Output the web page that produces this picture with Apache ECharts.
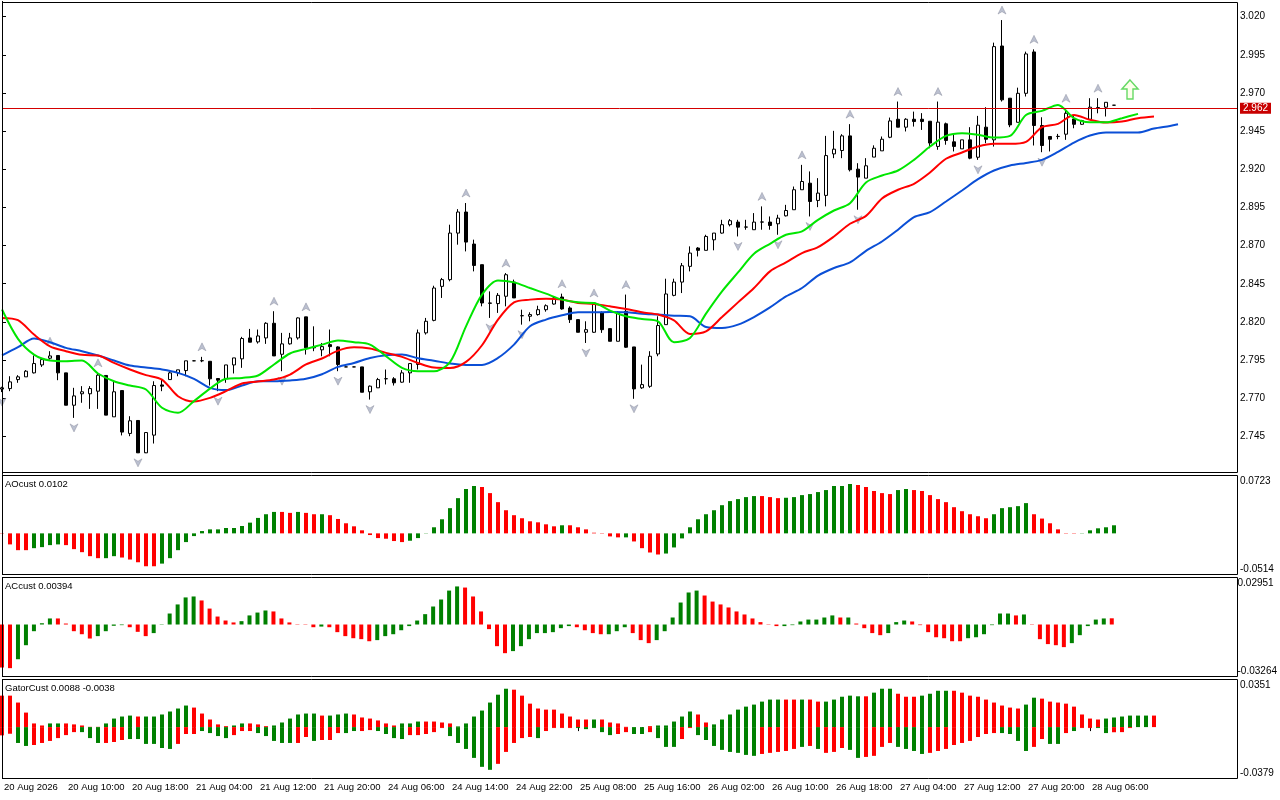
<!DOCTYPE html>
<html>
<head>
<meta charset="utf-8">
<title>Alligator chart</title>
<script src="https://cdn.jsdelivr.net/npm/echarts@6/dist/echarts.min.js"></script>
<style>
html,body{margin:0;padding:0;background:#fff;}
#main{width:1280px;height:800px;}
</style>
</head>
<body>
<div id="main"></div>
<script>
var timeLabels = ["20 Aug 2026","20 Aug 10:00","20 Aug 18:00","21 Aug 04:00","21 Aug 12:00","21 Aug 20:00",
	"24 Aug 06:00","24 Aug 14:00","24 Aug 22:00","25 Aug 08:00","25 Aug 16:00","26 Aug 02:00",
	"26 Aug 10:00","26 Aug 18:00","27 Aug 04:00","27 Aug 12:00","27 Aug 20:00","28 Aug 06:00"];
var labelBars = [0,8,16,24,32,40,48,56,64,72,80,88,96,104,112,120,128,136];
var priceTicks = [2.745,2.770,2.795,2.820,2.845,2.870,2.895,2.920,2.945,2.970,2.995,3.020];
var currentPrice = 2.962;

var opens = [2.7760,2.7763,2.7822,2.7840,2.7866,2.7918,2.7962,2.7980,2.7866,2.7654,
	2.7729,2.7729,2.7746,2.7849,2.7578,2.7750,2.7469,2.7554,2.7342,2.7458,
	2.7787,2.7822,2.7866,2.7881,2.7945,2.7945,2.7942,2.7829,2.7827,2.7918,
	2.7958,2.8095,2.8069,2.8095,2.8191,2.7988,2.8056,2.8095,2.8233,2.8030,
	2.8017,2.8051,2.8036,2.7905,2.7905,2.7905,2.7742,2.7768,2.7827,2.7827,
	2.7805,2.7866,2.7921,2.8128,2.8210,2.8433,2.8477,2.8782,2.8920,2.8710,
	2.8575,2.8324,2.8320,2.8368,2.8461,2.8241,2.8237,2.8248,2.8280,2.8317,
	2.8363,2.8291,2.8215,2.8132,2.8132,2.8259,2.8156,2.8073,2.8269,2.8036,
	2.7768,2.7778,2.7990,2.8182,2.8374,2.8461,2.8564,2.8684,2.8669,2.8738,
	2.8782,2.8837,2.8854,2.8821,2.8804,2.8854,2.8854,2.8843,2.8895,2.8935,
	2.9066,2.9109,2.8996,2.9029,2.9301,2.9323,2.9419,2.9201,2.9142,2.9280,
	2.9321,2.9410,2.9528,2.9476,2.9528,2.9528,2.9515,2.9350,2.9498,2.9380,
	2.9334,2.9393,2.9279,2.9476,2.9393,3.0008,2.9666,2.9508,2.9698,2.9969,
	2.9487,2.9415,2.9415,2.9430,2.9530,2.9495,2.9528,2.9604,2.9607,2.9620];
var highs = [2.7775,2.7844,2.7851,2.7884,2.7980,2.7964,2.8008,2.7980,2.7866,2.7768,
	2.7779,2.7779,2.7866,2.7849,2.7811,2.7750,2.7582,2.7554,2.7475,2.7811,
	2.7822,2.7877,2.7886,2.7945,2.7947,2.7971,2.7942,2.7829,2.7918,2.7964,
	2.8102,2.8154,2.8150,2.8198,2.8270,2.8128,2.8128,2.8230,2.8233,2.8171,
	2.8062,2.8150,2.8040,2.7906,2.7906,2.7905,2.7783,2.7833,2.7888,2.7838,
	2.7884,2.7927,2.8150,2.8226,2.8437,2.8488,2.8837,2.8939,2.8979,2.8739,
	2.8575,2.8400,2.8389,2.8520,2.8477,2.8280,2.8263,2.8306,2.8315,2.8368,
	2.8385,2.8302,2.8215,2.8204,2.8324,2.8269,2.8156,2.8269,2.8379,2.8036,
	2.7920,2.8008,2.8237,2.8483,2.8483,2.8586,2.8695,2.8690,2.8771,2.8782,
	2.8869,2.8874,2.8869,2.8869,2.8913,2.8957,2.8891,2.8902,2.8967,2.9087,
	2.9229,2.9186,2.9142,2.9419,2.9452,2.9430,2.9496,2.9240,2.9273,2.9357,
	2.9415,2.9539,2.9644,2.9535,2.9578,2.9568,2.9515,2.9644,2.9506,2.9426,
	2.9393,2.9476,2.9550,2.9607,3.0030,3.0178,2.9666,2.9735,2.9971,2.9986,
	2.9541,2.9415,2.9432,2.9600,2.9556,2.9524,2.9666,2.9666,2.9639,2.9620];
var lows = [2.7740,2.7746,2.7801,2.7840,2.7862,2.7905,2.7953,2.7818,2.7654,2.7571,
	2.7670,2.7630,2.7630,2.7589,2.7578,2.7456,2.7451,2.7342,2.7345,2.7403,
	2.7746,2.7822,2.7844,2.7844,2.7943,2.7936,2.7783,2.7746,2.7801,2.7862,
	2.7899,2.8067,2.8058,2.8056,2.7977,2.7877,2.8051,2.8084,2.7986,2.8008,
	2.7975,2.7975,2.7877,2.7904,2.7904,2.7739,2.7691,2.7768,2.7790,2.7783,
	2.7801,2.7801,2.7888,2.8117,2.8204,2.8357,2.8466,2.8706,2.8662,2.8531,
	2.8302,2.8226,2.8259,2.8302,2.8357,2.8182,2.8204,2.8241,2.8267,2.8313,
	2.8280,2.8193,2.8132,2.8062,2.8128,2.8128,2.8073,2.8073,2.8030,2.7696,
	2.7761,2.7768,2.7975,2.8182,2.8368,2.8389,2.8531,2.8629,2.8669,2.8669,
	2.8778,2.8826,2.8760,2.8804,2.8804,2.8804,2.8804,2.8771,2.8891,2.8935,
	2.9066,2.8891,2.8952,2.8957,2.9273,2.9273,2.9186,2.8935,2.9142,2.9280,
	2.9321,2.9404,2.9476,2.9448,2.9480,2.9458,2.9338,2.9328,2.9361,2.9317,
	2.9334,2.9266,2.9262,2.9371,2.9349,2.9644,2.9476,2.9508,2.9677,2.9356,
	2.9312,2.9317,2.9397,2.9393,2.9469,2.9491,2.9524,2.9567,2.9546,2.9620];
var closes = [2.7768,2.7807,2.7840,2.7877,2.7927,2.7953,2.7977,2.7866,2.7654,2.7715,
	2.7742,2.7763,2.7851,2.7589,2.7742,2.7478,2.7552,2.7342,2.7475,2.7783,
	2.7779,2.7866,2.7886,2.7945,2.7945,2.7946,2.7827,2.7818,2.7918,2.7964,
	2.8091,2.8067,2.8108,2.8191,2.7977,2.8056,2.8095,2.8226,2.8030,2.8036,
	2.8038,2.8038,2.7921,2.7905,2.7905,2.7739,2.7779,2.7822,2.7828,2.7801,
	2.7866,2.7927,2.8128,2.8204,2.8422,2.8477,2.8782,2.8920,2.8723,2.8570,
	2.8324,2.8322,2.8374,2.8509,2.8357,2.8240,2.8248,2.8280,2.8306,2.8357,
	2.8285,2.8215,2.8132,2.8149,2.8324,2.8149,2.8073,2.8263,2.8034,2.7761,
	2.7789,2.7975,2.8176,2.8383,2.8461,2.8568,2.8651,2.8669,2.8760,2.8782,
	2.8837,2.8863,2.8821,2.8822,2.8854,2.8855,2.8832,2.8880,2.8930,2.9066,
	2.9120,2.8989,2.9044,2.9290,2.9332,2.9419,2.9197,2.9149,2.9223,2.9338,
	2.9397,2.9517,2.9476,2.9528,2.9513,2.9513,2.9372,2.9509,2.9389,2.9350,
	2.9393,2.9273,2.9489,2.9397,3.0004,2.9655,2.9491,2.9698,2.9956,2.9487,
	2.9356,2.9397,2.9416,2.9567,2.9495,2.9519,2.9607,2.9605,2.9639,2.9620];

// alligator lines, one value every second bar starting at bar 0
var jaw = [2.7980,2.8034,2.8091,2.8067,2.8030,2.8008,2.7980,2.7947,2.7914,2.7901,
	2.7888,2.7866,2.7827,2.7768,2.7753,2.7783,2.7811,2.7811,2.7816,2.7827,
	2.7857,2.7905,2.7931,2.7964,2.7982,2.7986,2.7962,2.7946,2.7927,2.7918,
	2.7918,2.7964,2.8051,2.8171,2.8215,2.8243,2.8263,2.8263,2.8265,2.8263,
	2.8254,2.8248,2.8241,2.8237,2.8167,2.8160,2.8182,2.8232,2.8295,2.8367,
	2.8422,2.8503,2.8553,2.8590,2.8666,2.8727,2.8804,2.8887,2.8919,2.8989,
	2.9061,2.9135,2.9192,2.9225,2.9242,2.9262,2.9314,2.9375,2.9421,2.9441,
	2.9441,2.9441,2.9467,2.9484];
var jawEnd = [147, 2.9495];
var teeth = [2.8226,2.8211,2.8117,2.8040,2.8008,2.7984,2.7980,2.7931,2.7888,2.7851,
	2.7822,2.7713,2.7678,2.7702,2.7746,2.7796,2.7809,2.7822,2.7855,2.7921,
	2.7960,2.8012,2.8034,2.8025,2.7997,2.7971,2.7931,2.7901,2.7898,2.7938,
	2.8047,2.8215,2.8328,2.8346,2.8352,2.8346,2.8324,2.8317,2.8302,2.8285,
	2.8263,2.8248,2.8210,2.8121,2.8138,2.8232,2.8328,2.8422,2.8531,2.8590,
	2.8651,2.8690,2.8760,2.8843,2.8895,2.9009,2.9066,2.9105,2.9179,2.9269,
	2.9310,2.9349,2.9367,2.9367,2.9380,2.9476,2.9498,2.9556,2.9524,2.9506,
	2.9513,2.9535,2.9546];
var lips = [2.8281,2.8089,2.7986,2.7947,2.7942,2.7947,2.7862,2.7811,2.7783,2.7757,
	2.7637,2.7604,2.7681,2.7763,2.7827,2.7833,2.7849,2.7921,2.7993,2.8023,
	2.8051,2.8078,2.8067,2.8051,2.7975,2.7899,2.7877,2.7877,2.7936,2.8171,
	2.8379,2.8472,2.8459,2.8422,2.8385,2.8346,2.8328,2.8324,2.8274,2.8237,
	2.8219,2.8204,2.8067,2.8095,2.8254,2.8400,2.8524,2.8647,2.8712,2.8771,
	2.8793,2.8869,2.8930,2.8978,2.9114,2.9159,2.9192,2.9262,2.9349,2.9419,
	2.9437,2.9426,2.9408,2.9419,2.9556,2.9583,2.9622,2.9535,2.9508,2.9508,
	2.9535,2.9563];

var fractalUp = [6,12,25,34,38,58,63,70,74,78,95,100,106,112,117,125,129,133,137];
var fractalDown = [0,9,17,27,35,42,46,61,65,73,79,92,97,101,107,122,130];
var signalArrow = [141, 2.9723];

var ao = [-0.0004,-0.0138,-0.0210,-0.0210,-0.0185,-0.0172,-0.0147,-0.0138,-0.0147,-0.0197,
	-0.0235,-0.0285,-0.0310,-0.0310,-0.0285,-0.0302,-0.0327,-0.0361,-0.0411,-0.0411,
	-0.0378,-0.0310,-0.0210,-0.0109,-0.0034,0.0029,0.0050,0.0050,0.0067,0.0067,
	0.0092,0.0134,0.0193,0.0239,0.0268,0.0268,0.0256,0.0268,0.0256,0.0239,
	0.0239,0.0227,0.0180,0.0126,0.0088,0.0038,-0.0021,-0.0059,-0.0067,-0.0096,
	-0.0109,-0.0092,-0.0059,0.0003,0.0076,0.0176,0.0315,0.0440,0.0554,0.0592,
	0.0579,0.0503,0.0390,0.0289,0.0227,0.0189,0.0151,0.0138,0.0113,0.0088,
	0.0101,0.0101,0.0076,0.0050,0.0008,-0.0004,-0.0038,-0.0050,-0.0050,-0.0101,
	-0.0185,-0.0239,-0.0264,-0.0252,-0.0176,-0.0063,0.0076,0.0176,0.0239,0.0289,
	0.0352,0.0403,0.0428,0.0453,0.0466,0.0466,0.0453,0.0440,0.0445,0.0453,
	0.0478,0.0491,0.0516,0.0541,0.0592,0.0592,0.0617,0.0604,0.0579,0.0529,
	0.0503,0.0491,0.0541,0.0554,0.0541,0.0529,0.0478,0.0428,0.0390,0.0327,
	0.0277,0.0239,0.0214,0.0189,0.0239,0.0315,0.0327,0.0340,0.0378,0.0239,
	0.0185,0.0126,0.0050,0.0004,-0.0004,-0.0003,0.0038,0.0063,0.0076,0.0101];
var aoColors = "RRRRGGGGRR" + "RRRGGRRRRR" + "GGGGGGGGGG" + "GGGGGRRGRR" + "GRRRRRRRRR" +
	"RGGGGGGGGG" + "RRRRRRRRRR" + "GRRRRRRRGR" + "RRRGGGGGGG" + "GGGGGRRRGG" +
	"GGGGGGGRRR" + "RRGGRRRRRR" + "RRRRGGGGGR" + "RRRRRGGGGG";

var ac = [-0.0270,-0.0274,-0.0218,-0.0130,-0.0042,0.0008,0.0038,0.0038,0.0006,-0.0042,
	-0.0061,-0.0088,-0.0073,-0.0042,-0.0008,-0.0004,-0.0017,-0.0046,-0.0073,-0.0054,
	-0.0002,0.0069,0.0126,0.0170,0.0176,0.0151,0.0100,0.0050,0.0025,0.0013,
	0.0021,0.0057,0.0075,0.0088,0.0082,0.0038,0.0013,0.0002,-0.0002,-0.0017,
	-0.0013,-0.0017,-0.0048,-0.0073,-0.0086,-0.0092,-0.0105,-0.0098,-0.0073,-0.0061,
	-0.0036,-0.0010,0.0025,0.0065,0.0113,0.0157,0.0213,0.0239,0.0232,0.0176,
	0.0082,-0.0029,-0.0136,-0.0180,-0.0167,-0.0136,-0.0092,-0.0054,-0.0054,-0.0048,
	-0.0023,-0.0010,-0.0017,-0.0036,-0.0054,-0.0061,-0.0061,-0.0042,-0.0017,-0.0054,
	-0.0098,-0.0117,-0.0098,-0.0042,0.0044,0.0138,0.0201,0.0213,0.0182,0.0144,
	0.0126,0.0107,0.0082,0.0063,0.0038,0.0015,-0.0002,-0.0010,-0.0010,-0.0004,
	0.0019,0.0031,0.0031,0.0044,0.0057,0.0044,0.0044,0.0006,-0.0023,-0.0054,
	-0.0067,-0.0054,0.0015,0.0025,0.0019,-0.0004,-0.0048,-0.0080,-0.0086,-0.0105,
	-0.0105,-0.0086,-0.0080,-0.0061,-0.0004,0.0069,0.0069,0.0057,0.0063,0.0002,
	-0.0092,-0.0123,-0.0130,-0.0142,-0.0117,-0.0067,-0.0010,0.0031,0.0038,0.0039];
var acColors = "RRGGGGGRRR" + "RRGGGGRRRG" + "GGGGGRRRRR" + "GGGGRRRRRR" + "GRRRRRRGGG" +
	"GGGGGGGGRR" + "RRRRGGGGGG" + "GGRRRRGGGR" + "RRGGGGGGRR" + "RRRRRRRRGG" +
	"GGGGGRGRRR" + "RGGGRRRRRR" + "RGGGGGGRGR" + "RRRRGGGGGR";

var gatorUpper = [0.0232,0.0232,0.0181,0.0107,0.0027,0.0012,0.0027,0.0027,0.0027,0.0020,
	0.0012,0.0002,0.0002,0.0027,0.0063,0.0078,0.0085,0.0078,0.0078,0.0078,
	0.0093,0.0115,0.0137,0.0159,0.0144,0.0100,0.0056,0.0020,0.0007,0.0012,
	0.0027,0.0027,0.0020,0.0007,0.0012,0.0034,0.0063,0.0093,0.0100,0.0100,
	0.0085,0.0085,0.0093,0.0100,0.0093,0.0071,0.0063,0.0049,0.0027,0.0012,
	0.0027,0.0027,0.0041,0.0041,0.0041,0.0034,0.0027,0.0005,0.0027,0.0078,
	0.0122,0.0181,0.0239,0.0283,0.0276,0.0232,0.0173,0.0137,0.0129,0.0129,
	0.0100,0.0078,0.0056,0.0056,0.0056,0.0056,0.0034,0.0027,0.0002,0,
	0,0.0007,0.0012,0.0012,0.0041,0.0078,0.0115,0.0093,0.0034,0.0020,
	0.0056,0.0093,0.0129,0.0151,0.0166,0.0188,0.0203,0.0203,0.0203,0.0203,
	0.0203,0.0203,0.0188,0.0188,0.0203,0.0224,0.0232,0.0227,0.0227,0.0254,
	0.0283,0.0283,0.0246,0.0224,0.0224,0.0232,0.0246,0.0268,0.0268,0.0268,
	0.0254,0.0232,0.0224,0.0203,0.0181,0.0159,0.0144,0.0137,0.0166,0.0217,
	0.0210,0.0188,0.0181,0.0173,0.0151,0.0093,0.0063,0.0056,0.0063,0.0071,
	0.0078,0.0085,0.0085,0.0085,0.0085];
var gatorUpperColors = "RRRRRRGGRR" + "RRRGGGGRGG" + "GGGGRRRRRG" + "GRRRGGGGGG" + "RGGGRRRRRR" +
	"GGGRRRRGGG" + "GGGGRRRRRR" + "RRRRGRRRRR" + "RRGGGGGRRG" + "GGGGGGGGRR" +
	"GRRGGGGGRG" + "GGRRRGGGGR" + "RRRRRRRRGG" + "RRRRRRRRGG" + "GGGGR";
var gatorLower = [-0.0061,-0.0049,-0.0117,-0.0139,-0.0132,-0.0117,-0.0102,-0.0081,-0.0059,-0.0037,
	-0.0037,-0.0081,-0.0117,-0.0117,-0.0110,-0.0095,-0.0088,-0.0088,-0.0124,-0.0124,
	-0.0154,-0.0161,-0.0124,-0.0051,-0.0051,-0.0029,-0.0044,-0.0066,-0.0081,-0.0059,
	-0.0029,-0.0029,-0.0044,-0.0066,-0.0102,-0.0117,-0.0117,-0.0117,-0.0073,-0.0102,
	-0.0095,-0.0095,-0.0044,-0.0044,-0.0029,-0.0029,-0.0022,-0.0029,-0.0051,-0.0081,
	-0.0088,-0.0059,-0.0059,-0.0051,-0.0037,-0.0007,-0.0066,-0.0117,-0.0161,-0.0227,
	-0.0293,-0.0315,-0.0271,-0.0183,-0.0117,-0.0081,-0.0073,-0.0081,-0.0029,-0.0007,
	-0.0007,-0.0007,-0.0007,-0.0015,-0.0007,-0.0037,-0.0059,-0.0051,-0.0037,-0.0051,
	-0.0051,-0.0037,-0.0081,-0.0146,-0.0146,-0.0088,-0.0007,-0.0059,-0.0095,-0.0139,
	-0.0168,-0.0183,-0.0190,-0.0205,-0.0212,-0.0198,-0.0190,-0.0183,-0.0176,-0.0161,
	-0.0146,-0.0139,-0.0161,-0.0190,-0.0183,-0.0154,-0.0168,-0.0227,-0.0220,-0.0212,
	-0.0146,-0.0117,-0.0146,-0.0161,-0.0176,-0.0198,-0.0190,-0.0176,-0.0161,-0.0132,
	-0.0117,-0.0102,-0.0073,-0.0051,-0.0044,-0.0044,-0.0051,-0.0102,-0.0176,-0.0146,
	-0.0088,-0.0124,-0.0124,-0.0044,-0.0029,-0.0007,-0.0007,-0.0007,-0.0044,-0.0038,
	-0.0037,-0.0007];
var gatorLowerColors = "RRGGRRRRRR" + "GGGRRRGGGG" + "GGRRRGGGGR" + "RRGGGGGRRG" + "RRRGGRRGGG" +
	"GRRRRRGGGG" + "GGRRRRRGRR" + "RRGGGGGRRG" + "GRGGGRRGGG" + "GGGGGRRRRR" +
	"GRGRRRGGRR" + "RRGGGGRRRR" + "RRRRRGGGGR" + "RGGRGRRGGR" + "RR";

var aoRange = [-0.0514, 0.0723];
var acRange = [-0.03264, 0.02951];
var gatorRange = [-0.0379, 0.0351];

var GREEN = '#008000', RED = '#ff0000';
var FONT = '"Liberation Sans", Arial, sans-serif';
var XMAX = 1235 / 8;

function candleData(){
	var out = [];
	for(var i=0;i<opens.length;i++){
		out.push([i, opens[i], closes[i], lows[i], highs[i]]);
	}
	return out;
}

function everyOther(vals, tail){
	var out = [];
	for(var k=0;k<vals.length;k++){
		out.push([2*k, vals[k]]);
	}
	if(tail){
		out.push(tail);
	}
	return out;
}

function histo(vals, cols){
	var out = [];
	for(var i=0;i<vals.length;i++){
		out.push({value:[i, vals[i]], itemStyle:{color: cols.charAt(i)=='G' ? GREEN : RED}});
	}
	return out;
}

function fractalPoints(idx, src){
	return idx.map(function(i){ return [i, src[i]]; });
}

function hiddenX(idx){
	return {type:'value', gridIndex:idx, min:0, max:XMAX, show:false};
}

function subY(idx, range, digits){
	return {
		type:'value', gridIndex:idx, position:'right', min:range[0], max:range[1],
		splitLine:{show:false},
		axisLine:{show:true, lineStyle:{color:'#000'}},
		axisTick:{show:true, customValues:range, length:4, lineStyle:{color:'#000'}},
		axisLabel:{
			customValues:range, margin:3, color:'#000', fontSize:10, fontFamily:FONT,
			formatter:function(v){
				var s = v.toFixed(digits);
				return Math.abs(v-range[1])<1e-9 ? '{t|'+s+'}' : '{b|'+s+'}';
			},
			rich:{
				t:{fontSize:10, fontFamily:FONT, color:'#000', padding:[11,0,0,0]},
				b:{fontSize:10, fontFamily:FONT, color:'#000', padding:[0,0,11,0]}
			}
		}
	};
}

function frame(y, h){
	return {type:'rect', z:100, silent:true, shape:{x:2.5, y:y, width:1235, height:h},
		style:{fill:null, stroke:'#000', lineWidth:1}};
}

function legendText(y, txt){
	return {type:'text', z:100, silent:true, left:5, top:y,
		style:{text:txt, font:'9.5px ' + FONT, fill:'#000'}};
}

var chart = echarts.init(document.getElementById('main'), null, {renderer:'canvas'});

var option = {
	animation:false,
	backgroundColor:'#ffffff',
	grid:[
		{left:2, width:1235, top:1.44, height:473.06},
		{left:2, width:1235, top:475.5, height:99},
		{left:2, width:1235, top:577.5, height:99},
		{left:2, width:1235, top:679.5, height:99}
	],
	xAxis:[
		hiddenX(0), hiddenX(1), hiddenX(2),
		{
			type:'value', gridIndex:3, min:0, max:XMAX,
			splitLine:{show:false},
			axisLine:{show:false},
			axisTick:{show:true, customValues:labelBars, length:4, lineStyle:{color:'#000'}},
			axisLabel:{
				customValues:labelBars, align:'left', margin:4, padding:[0,0,0,2],
				color:'#000', fontSize:9.5, fontFamily:FONT,
				formatter:function(v){ return timeLabels[Math.round(v/8)]; }
			}
		}
	],
	yAxis:[
		{
			type:'value', gridIndex:0, position:'right', min:2.72, max:3.03,
			splitLine:{show:false},
			axisLine:{show:true, lineStyle:{color:'#000'}},
			axisTick:{show:true, customValues:priceTicks, length:4, lineStyle:{color:'#000'}},
			axisLabel:{customValues:priceTicks, margin:3, color:'#000', fontSize:10, fontFamily:FONT,
				formatter:function(v){ return v.toFixed(3); }}
		},
		subY(1, aoRange, 4),
		subY(2, acRange, 5),
		subY(3, gatorRange, 4)
	],
	series:[
		{
			type:'candlestick', xAxisIndex:0, yAxisIndex:0,
			data:candleData(), encode:{x:0, y:[1,2,3,4]},
			barWidth:4,
			itemStyle:{color:'#ffffff', color0:'#000000', borderColor:'#000000', borderColor0:'#000000',
				borderColorDoji:'#000000', borderWidth:1},
			markLine:{
				symbol:'none', silent:true, animation:false,
				lineStyle:{color:'#d40000', width:1, type:'solid'},
				label:{show:true, position:'end', distance:3, formatter:currentPrice.toFixed(3),
					backgroundColor:'#c80000', color:'#fff', padding:[1,3,0,3], fontSize:10, fontFamily:FONT},
				data:[{yAxis:currentPrice}]
			}
		},
		{type:'line', xAxisIndex:0, yAxisIndex:0, data:everyOther(jaw, jawEnd), smooth:0.3,
			showSymbol:false, lineStyle:{color:'#0b4fd6', width:2}},
		{type:'line', xAxisIndex:0, yAxisIndex:0, data:everyOther(teeth), smooth:0.3,
			showSymbol:false, lineStyle:{color:'#ff0000', width:2}},
		{type:'line', xAxisIndex:0, yAxisIndex:0, data:everyOther(lips), smooth:0.3,
			showSymbol:false, lineStyle:{color:'#00e600', width:2}},
		{type:'scatter', xAxisIndex:0, yAxisIndex:0, data:fractalPoints(fractalUp, highs),
			symbol:'path://M5,0L10,10L5,7L0,10Z', symbolSize:[8,8], symbolOffset:[0,-10],
			itemStyle:{color:'#aab0c4', borderColor:'#7c8090', borderWidth:0.5}},
		{type:'scatter', xAxisIndex:0, yAxisIndex:0, data:fractalPoints(fractalDown, lows),
			symbol:'path://M0,0L5,3L10,0L5,10Z', symbolSize:[8,8], symbolOffset:[0,10],
			itemStyle:{color:'#aab0c4', borderColor:'#7c8090', borderWidth:0.5}},
		{type:'scatter', xAxisIndex:0, yAxisIndex:0, data:[signalArrow],
			symbol:'path://M8,0L16,9L11,9L11,19L5,19L5,9L0,9Z', symbolSize:[16,19],
			itemStyle:{color:'#fbffe6', borderColor:'#3fcf3f', borderWidth:1.5}},
		{type:'bar', xAxisIndex:1, yAxisIndex:1, data:histo(ao, aoColors), barWidth:4},
		{type:'bar', xAxisIndex:2, yAxisIndex:2, data:histo(ac, acColors), barWidth:4},
		{type:'bar', xAxisIndex:3, yAxisIndex:3, stack:'gator', data:histo(gatorUpper, gatorUpperColors), barWidth:4},
		{type:'bar', xAxisIndex:3, yAxisIndex:3, stack:'gator', data:histo(gatorLower, gatorLowerColors), barWidth:4}
	],
	graphic:[
		frame(2.5, 470),
		frame(475.5, 99),
		frame(577.5, 99),
		frame(679.5, 99),
		legendText(479, 'AOcust 0.0102'),
		legendText(581, 'ACcust 0.00394'),
		legendText(683, 'GatorCust 0.0088 -0.0038')
	]
};

chart.setOption(option);
</script>
</body>
</html>
